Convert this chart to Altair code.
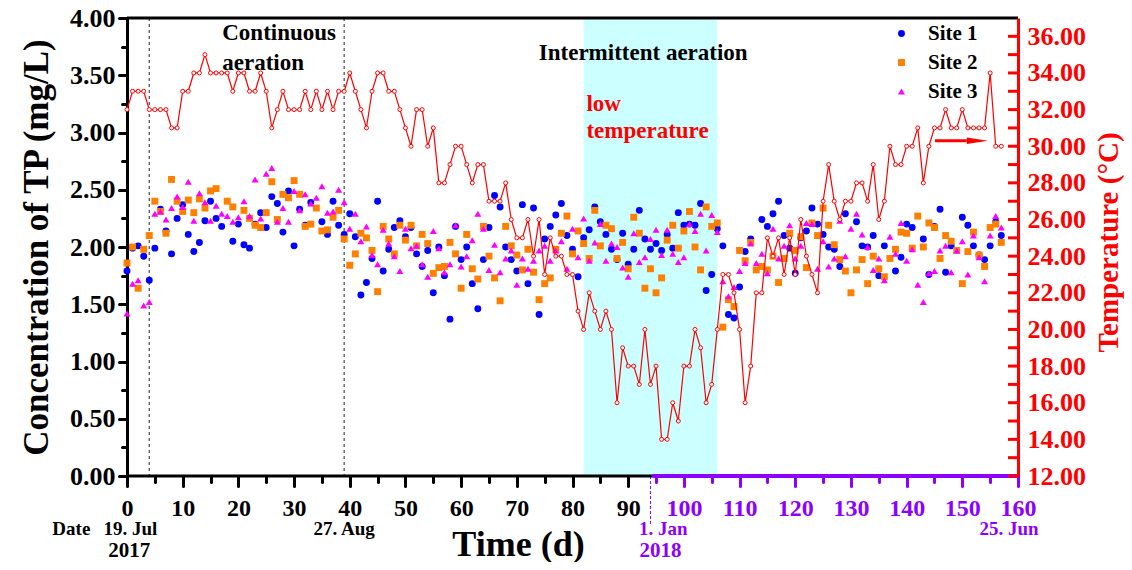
import altair as alt
import pandas as pd

# ---------------- data ----------------
days = list(range(158))

site1 = [1.79, 1.99, 2.01, 1.92, 1.71, 1.99, 2.33, 2.14, 1.94, 2.25,
         2.37, 2.11, 1.96, 2.04, 2.23, 2.40, 2.25, 2.18, None, 2.05,
         2.20, 2.02, 1.99, 2.20, 2.30, 2.17, 2.44, 2.38, 2.13, 2.49,
         2.01, 2.33, 2.19, 2.39, None, 2.22, 2.11, 2.40, 2.19, 2.11,
         2.29, 2.09, 1.58, 1.69, 1.90, 2.40, 1.79, 1.98, 2.17, 2.23,
         2.09, 2.17, 1.94, 1.83, 1.97, 1.60, 2.00, 1.75, 1.37, 2.18,
         1.89, 2.00, 1.68, 1.46, 1.89, 2.17, 2.45, 2.35, 2.00, 1.89,
         1.79, 2.37, 1.68, 2.34, 1.41, 2.07, 2.18, 2.28, 2.38, 2.10,
         1.98, 1.74, 2.08, 2.15, 2.35, 2.22, 2.11, 1.98, 1.89, 2.12,
         1.85, 1.98, 2.32, 2.07, 1.98, 2.03, 1.97, 2.11, 1.99, 2.30,
         2.19, 2.20, 2.19, 2.38, 1.62, 1.76, 2.16, 2.01, 1.41, 1.38,
         1.65, 1.96, 2.07, None, 2.24, 2.18, 2.29, 2.40, 2.10, 1.99,
         1.77, 2.08, 2.14, 2.34, 2.20, 2.11, 2.00, 1.98, 1.83, 2.29,
         None, 2.22, 2.01, 2.00, 2.10, 1.75, 2.01, None, 1.79, 1.91,
         2.20, 2.17, None, 2.07, 1.76, 2.18, 2.33, 1.78, 2.01, None,
         2.26, 2.19, 2.01, 1.93, 1.89, 2.01, 2.22, 2.10]

site2 = [1.86, 2.00, 1.64, 1.98, 2.10, 2.40, 2.31, 2.12, 2.59, 2.40,
         2.31, 2.41, 2.30, 2.42, 2.34, 2.49, 2.51, None, 2.40, 2.35,
         None, 2.32, 2.25, 2.19, 2.17, 2.30, 2.57, 2.24, 2.46, 2.43,
         2.58, 2.46, 2.18, 2.20, 2.34, 2.14, 2.15, 2.26, 2.32, 2.07,
         1.84, 1.94, 2.12, 2.08, 1.97, 1.61, 2.18, 2.07, 1.94, 2.19,
         2.06, 2.19, 2.01, 2.11, 2.03, 1.77, 1.82, 1.83, 2.04, 1.94,
         1.64, 2.11, 1.81, 1.72, 2.18, 1.92, 1.73, 1.53, 2.18, 2.01,
         1.93, 1.80, 1.98, 1.78, 1.54, 1.68, 1.73, 1.98, 2.12, 2.27,
         1.94, 2.14, 2.03, 1.90, 2.32, 2.01, 2.19, 2.16, 1.90, 2.04,
         1.81, 2.26, 2.12, 1.64, 1.81, 1.60, 1.73, 2.06, 2.19, 1.99,
         2.14, 2.31, 2.00, 1.80, 2.35, 2.18, 2.21, 1.30, 1.54, 1.48,
         1.97, 1.88, 2.04, 1.80, 1.83, 1.80, 1.92, 1.69, 1.90, 2.12,
         1.97, 2.09, 1.82, 2.21, 2.10, 2.34, 2.19, 2.02, 1.89, 1.79,
         1.60, 1.80, 1.89, 1.68, 1.92, 1.81, 1.74, 1.90, 1.98, 2.13,
         2.12, 1.99, 2.27, 2.00, 2.21, 2.17, 1.90, 2.10, 2.05, 1.97,
         1.68, 1.96, 2.13, 1.93, 1.83, 2.17, 2.20, 2.04]

site3 = [1.42, 1.68, 1.71, 1.49, 1.52, 2.29, 2.31, 2.24, 2.34, 2.44,
         2.35, 2.57, 2.23, 2.47, 2.39, 2.23, 2.36, 2.29, 2.27, 2.22,
         2.26, 2.40, 2.27, 2.59, 2.25, 2.64, 2.69, 2.22, 2.34, 2.22,
         2.49, 2.32, 2.46, 2.38, 2.43, 2.53, 2.30, 2.31, 2.50, 2.39,
         2.16, 2.29, 2.05, 2.18, 1.93, 1.85, 2.15, 2.03, 1.92, 1.79,
         2.16, 1.99, 2.01, 1.85, 1.74, 2.14, 1.99, 1.78, 1.85, 2.19,
         1.83, 1.92, 2.06, 2.29, 2.16, 1.80, 2.02, 1.78, 1.90, 1.97,
         1.67, 1.90, 1.81, 1.88, 1.97, 2.01, 1.88, 1.97, 2.05, 1.81,
         2.16, 1.91, 2.25, 1.88, 2.04, 2.20, 1.88, 2.03, 2.00, 1.82,
         1.74, 2.12, 1.87, 1.91, 2.07, 2.15, 1.93, 2.15, 1.94, 1.87,
         1.91, 2.20, 2.14, 2.29, 1.97, 2.28, 2.13, 1.70, 1.57, 1.65,
         1.79, 1.86, 2.03, 1.86, 1.94, 1.77, 2.16, 1.90, 2.01, 2.19,
         1.90, 2.01, 2.21, 2.20, 1.81, 2.05, 1.83, 1.90, 2.23, 1.92,
         2.16, 2.29, 2.11, 2.00, 1.80, 1.90, 1.71, 2.09, 1.94, 2.21,
         1.88, 1.98, 1.67, 1.52, 1.77, 1.79, 1.97, 2.01, 1.78, 1.97,
         2.05, 1.76, 2.10, 1.91, 1.70, 2.10, 2.27, 2.17]

temperature = [32, 33, 33, 33, 32, 32, 32, 32, 31, 31,
               33, 33, 34, 34, 35, 34, 34, 34, 34, 33,
               34, 34, 33, 33, 34, 33, 31, 32, 33, 32,
               32, 32, 33, 32, 33, 32, 33, 32, 33, 33,
               34, 33, 32, 31, 33, 34, 34, 33, 33, 32,
               31, 30, 32, 32, 30, 31, 28, 28, 29, 30,
               30, 29, 28, 29, 29, 27, 27, 27, 28, 26,
               25, 25, 26, 24, 26, 23, 25, 24, 24, 23,
               23, 21, 20, 22, 21, 20, 21, 20, 16, 19,
               18, 18, 17, 20, 17, 18, 14, 14, 16, 15,
               18, 18, 20, 19, 16, 17, 20, 23, 23, 22,
               20, 16, 18, 22, 22, 25, 24, 25, 23, 25,
               23, 26, 24, 23, 22, 27, 29, 27, 26, 27,
               27, 28, 28, 27, 29, 26, 27, 30, 29, 29,
               30, 30, 31, 28, 30, 31, 31, 32, 31, 31,
               32, 31, 31, 31, 31, 34, 30, 30]

site_names = ["Site 1", "Site 2", "Site 3"]
site_colors = ["#0000FF", "#FF8000", "#FF00FF"]
site_shapes = ["circle", "square", "triangle-up"]

low_temp_period = [82, 106]          # shaded days
phase_marks = [4, 39]                # dashed phase boundaries
new_year_day = 94                    # 1 Jan 2018
temp_ticks = list(range(12, 37))

# ---------------- style ----------------
W, H = 891, 458
FONT = "Liberation Serif"
RED = "#FF0000"
PURPLE = "#8B00FF"

rows = []
for name, vals in zip(site_names, [site1, site2, site3]):
    for d, v in zip(days, vals):
        if v is not None:
            rows.append({"day": d, "tp": v, "site": name})
scatter_df = pd.DataFrame(rows)
temp_df = pd.DataFrame({"day": days, "temp": temperature})

x_scale = alt.Scale(domain=[0, 160], nice=False, zero=False)
x_axis = alt.Axis(
    values=list(range(0, 161, 5)),
    format="d",
    labelExpr="datum.value % 10 == 0 ? datum.label : ''",
    domain=False, grid=False, labelFlush=False, labelOverlap=False,
    tickSize={"condition": {"test": "datum.value % 10 == 0", "value": 10}, "value": 6},
    tickWidth=3, tickCap="round",
    tickColor={"condition": {"test": "datum.value >= 95", "value": PURPLE}, "value": "black"},
    labelColor={"condition": {"test": "datum.value >= 100", "value": PURPLE}, "value": "black"},
    labelFontSize=24, labelPadding=10, labelFont=FONT, labelFontWeight="bold",
    title="Time (d)", titleFontSize=36, titleFont=FONT, titleFontWeight="bold",
    titleX=391, titleY=79, titleBaseline="alphabetic", titleColor="black",
)
X = alt.X("day:Q", scale=x_scale, axis=x_axis)

y_scale = alt.Scale(domain=[0, 4], nice=False, zero=False)
y_axis = alt.Axis(
    values=[i * 0.25 for i in range(17)],
    labelExpr="datum.value % 0.5 == 0 ? format(datum.value, '.2f') : ''",
    grid=False, domainColor="black", domainWidth=3, labelFlush=False,
    labelOverlap=False,
    tickColor="black", tickWidth=3, tickCap="round",
    tickSize={"condition": {"test": "datum.value % 0.5 != 0", "value": 5}, "value": 8},
    labelFontSize=26, labelPadding=4, labelFont=FONT, labelFontWeight="bold",
    labelColor="black",
    title="Concentration of TP (mg/L)", titleFontSize=35, titleFont=FONT,
    titleFontWeight="bold", titlePadding=15, titleColor="black",
)
Y = alt.Y("tp:Q", scale=y_scale, axis=y_axis)

t_scale = alt.Scale(domain=[12, 37], nice=False, zero=False)
t_axis = alt.Axis(
    orient="right", values=list(range(12, 37, 2)), format=".2f",
    ticks=False, grid=False, domainColor=RED, domainWidth=3,
    labelFlush=False, labelOverlap=False,
    labelColor=RED, labelFontSize=26, labelPadding=9, labelFont=FONT,
    labelFontWeight="bold",
    title="Temperature (°C)", titleColor=RED, titleFontSize=29, titleFont=FONT,
    titleFontWeight="bold", titleAngle=270, titleX=90, titleY=224,
    titleAlign="center", titleBaseline="middle", zindex=1,
)
T = alt.Y("temp:Q", scale=t_scale, axis=t_axis)


def text_layer(texts, xs, color, size, align="left", baseline="alphabetic",
               tps=None, py=None):
    data = {"text": texts, "day": xs}
    enc = dict(x=X, text="text:N")
    if tps is not None:
        data["tp"] = tps
        enc["y"] = Y
    else:
        enc["y"] = alt.value(py)
    return alt.Chart(pd.DataFrame(data)).mark_text(
        color=color, fontSize=size, font=FONT, fontWeight="bold",
        align=align, baseline=baseline
    ).encode(**enc)


band = alt.Chart(pd.DataFrame({"day": [low_temp_period[0]],
                               "day2": [low_temp_period[1]]})).mark_rect(
    color="#CCFFFF", opacity=1).encode(x=X, x2=alt.X2("day2:Q"))

phase_lines = alt.Chart(pd.DataFrame({"day": phase_marks})).mark_rule(
    color="#555555", strokeWidth=1.3, strokeDash=[3, 3]).encode(x=X)

ny_line = alt.Chart(pd.DataFrame({"day": [new_year_day]})).mark_rule(
    color=PURPLE, strokeWidth=1, strokeDash=[3, 2]).encode(
    x=X, y=alt.value(H), y2=alt.value(H + 50))

axis_black = alt.Chart(pd.DataFrame({"day": [0], "day2": [94.6]})).mark_rule(
    color="black", strokeWidth=3).encode(x=X, x2=alt.X2("day2:Q"), y=alt.value(H))
axis_purple = alt.Chart(pd.DataFrame({"day": [94.6], "day2": [160]})).mark_rule(
    color=PURPLE, strokeWidth=4, strokeCap="round").encode(
    x=X, x2=alt.X2("day2:Q"), y=alt.value(H))
top_border = alt.Chart(pd.DataFrame({"day": [0]})).mark_rule(
    color="black", strokeWidth=3).encode(
    x=alt.value(0), x2=alt.value(W), y=alt.value(0))

legend = alt.Legend(title=None, orient="none", legendX=764, legendY=5,
                    labelFont=FONT, labelFontSize=21, labelFontWeight="bold",
                    labelColor="black", labelOffset=16, rowPadding=7,
                    symbolSize=48, padding=0)
scatter = alt.Chart(scatter_df).mark_point(filled=True, size=48, opacity=1).encode(
    x=X, y=Y,
    color=alt.Color("site:N", scale=alt.Scale(domain=site_names, range=site_colors),
                    legend=legend),
    shape=alt.Shape("site:N", scale=alt.Scale(domain=site_names, range=site_shapes),
                    legend=legend),
    order=alt.Order("site:N"),
)

ann1 = text_layer(["Continuous", "aeration"], [17.1, 17.1], "black", 23, tps=[3.81, 3.55])
ann2 = text_layer(["Intermittent aeration"], [92.7], "black", 23, align="center", tps=[3.63])
ann3 = text_layer(["low", "temperature"], [82.5, 82.5], RED, 23, tps=[3.19, 2.95])

date1 = text_layer(["Date", "19. Jul", "27. Aug"], [-10, 0.6, 39], "black", 19,
                   align="center", baseline="middle", py=H + 53)
date2 = text_layer(["2017"], [0.4], "black", 21, align="center", baseline="middle", py=H + 75)
date3 = text_layer(["1. Jan", "25. Jun"], [96.3, 158.4], PURPLE, 19,
                   align="center", baseline="middle", py=H + 53)
date4 = text_layer(["2018"], [95.8], PURPLE, 21, align="center", baseline="middle", py=H + 75)

left_group = alt.layer(band, phase_lines, ny_line, scatter, ann1, ann2, ann3,
                       date1, date2, date3, date4, axis_black, axis_purple, top_border)

rticks = alt.Chart(pd.DataFrame({"temp": temp_ticks})).mark_rule(
    color=RED, strokeWidth=3).encode(x=alt.value(W - 10), x2=alt.value(W), y=T)
temp_line = alt.Chart(temp_df).mark_line(
    color=RED, strokeWidth=1.2,
    point=alt.OverlayMarkDef(shape="circle", filled=True, fill="white",
                             stroke=RED, strokeWidth=1, size=16)
).encode(x=X, y=T)
arrow_shaft = alt.Chart(pd.DataFrame({"day": [145.1], "day2": [150.8], "temp": [30.3]})).mark_rule(
    color=RED, strokeWidth=3).encode(x=X, x2=alt.X2("day2:Q"), y=T)
arrow_head = alt.Chart(pd.DataFrame({"day": [152.7], "temp": [30.3]})).mark_point(
    shape="M-1,-0.3L1,0L-1,0.3Z", size=441, filled=True, color=RED, opacity=1
).encode(x=X, y=T)

right_group = alt.layer(rticks, temp_line, arrow_shaft, arrow_head)

chart = alt.layer(left_group, right_group).resolve_scale(y="independent").properties(
    width=W, height=H,
    padding={"left": 119, "top": 10, "right": 106, "bottom": 86},
    autosize=alt.AutoSizeParams(type="none"),
    background="white",
).configure_view(stroke=None).configure_axis(grid=False)

chart.save("out.html", embed_options={"renderer": "svg", "actions": False})
